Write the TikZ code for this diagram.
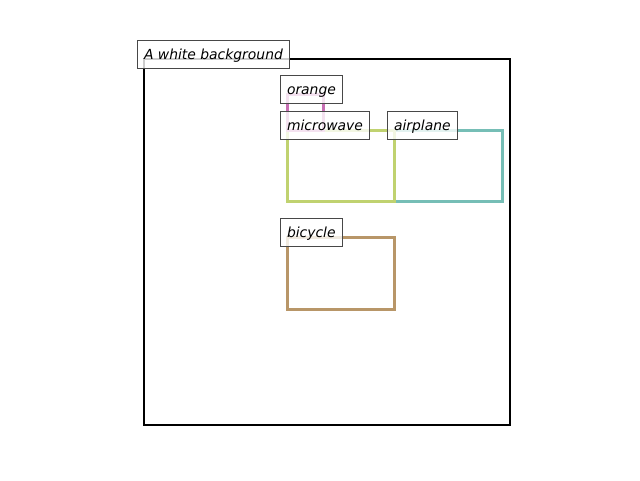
\documentclass[tikz,border=0pt]{standalone}
\usepackage{fontspec}
\setmainfont{DejaVu Sans}
\usepackage{tikz}
\usetikzlibrary{positioning}

\definecolor{framecol}{RGB}{0,0,0}
\definecolor{orangecol}{RGB}{200,110,180}
\definecolor{microcol}{RGB}{192,210,112}
\definecolor{planecol}{RGB}{118,190,182}
\definecolor{bikecol}{RGB}{184,150,104}
\definecolor{lblline}{RGB}{72,72,72}

\tikzset{
	boxline/.style={line width=3pt,line join=miter},
	lbl/.style={anchor=base west,xshift=-7pt,fill=white,fill opacity=0.8,text opacity=1,
		draw=lblline,line width=1pt,inner xsep=6.5pt,inner ysep=0pt,
		text height=19pt,text depth=9pt,
		font=\fontsize{13.9}{16}\selectfont\itshape}
}

\begin{document}
\begin{tikzpicture}[x=1pt,y=-1pt]
		\useasboundingbox (0,0) rectangle (640,480);

		\coordinate (bg)   at (144,59);
		\coordinate (or)   at (287,94);
		\coordinate (mw)   at (287,130);
		\coordinate (ap)   at (394,130);
		\coordinate (bc)   at (287,237);

		% frames
		\draw [boxline,line width=2.6pt,draw=framecol] (bg) rectangle (510,425);
		\draw [boxline,draw=bikecol] (bc) rectangle (394,309);
		\draw [boxline,draw=planecol] (ap) rectangle (502,201);
		\draw [boxline,draw=microcol] (mw) rectangle (394,201);
		\draw [boxline,draw=orangecol] (or) rectangle (323,130);

		% labels
		\node [lbl] (bglbl) at (bg) {A white background};
		\node [lbl] (orlbl) at (or) {orange};
		\node [lbl] (mwlbl) at (mw) {microwave};
		\node [lbl] (aplbl) at (ap) {airplane};
		\node [lbl] (bclbl) at (bc) {bicycle};
    \end{tikzpicture}
\end{document}
